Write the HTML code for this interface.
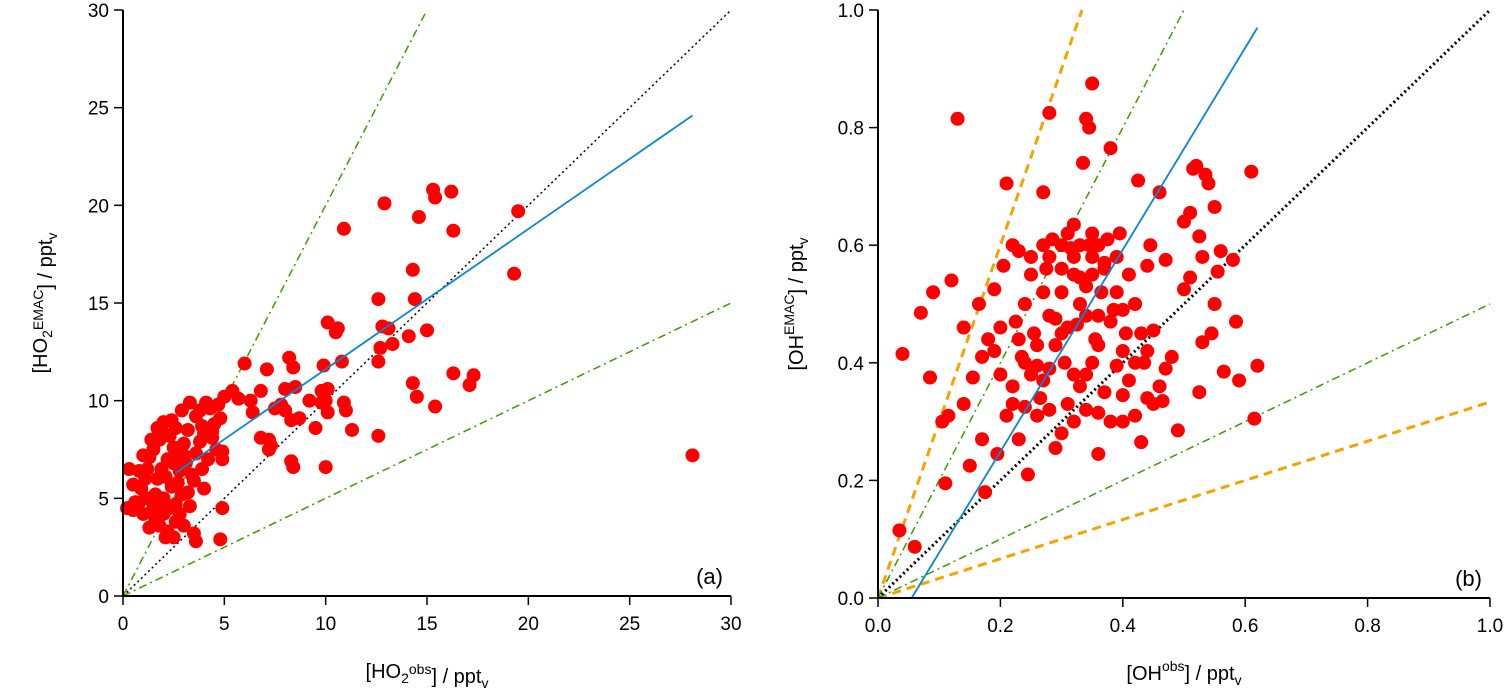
<!DOCTYPE html>
<html><head><meta charset="utf-8"><style>
body{margin:0;background:#fff;}
svg{display:block;font-family:"Liberation Sans",sans-serif;}
</style></head><body>
<svg id="c" width="1507" height="692" xmlns="http://www.w3.org/2000/svg"></svg>
<script>
const hoX=[28.1,19.5,19.3,15.3,15.4,16.2,16.3,12.9,10.9,14.6,14.3,12.6,14.4,17.3,17.1,16.3,14.3,14.5,15.4,12.6,13.3,15.0,14.1,12.8,13.1,12.6,12.7,10.1,10.5,10.6,9.9,10.8,8.2,8.4,7.1,6.0,10.9,11.0,11.3,9.8,10.1,10.0,9.2,9.5,9.8,10.1,10.0,8.0,8.5,8.0,7.8,8.3,8.7,8.3,8.4,7.2,7.2,7.5,6.8,7.3,6.8,5.4,5.0,5.7,6.3,6.4,4.9,4.8,4.9,4.4,
0.3,0.2,0.5,0.8,0.5,1,1.2,1.5,1.3,1.8,2.2,2.5,2.6,3.5,3.6,3.3,2.0,1.7,1.2,1.0,1.5,1.8,1.9,2.0,2.3,2.5,2.7,3.0,3.2,3.6,3.8,4.3,4.7,4.1,3.9,4.4,4.6,4.2,3.9,4.0,3.4,2.8,2.4,2.1,1.6,2.2,2.9,3.1,3.6,2.6,1.4,2.0,1.1,0.9,2.8,3.0,2.3,1.6,2.9,3.3,4.8,4.5,3.0,2.5,1.9,2.7,3.5,3.8,1.3,0.6,2.1,2.4,1.7,4.9,4.0,3.2,1.9,2.6,0.8];
const hoY=[7.2,19.7,16.5,20.8,20.4,20.7,18.7,20.1,18.8,19.4,16.7,15.2,15.2,11.3,10.8,11.4,10.9,10.2,9.7,8.2,12.9,13.6,13.3,13.8,13.7,12.0,12.7,14.0,13.5,13.7,11.8,12.0,12.2,11.7,11.6,11.9,9.9,9.5,8.5,10.5,10.6,10.0,10.0,8.6,9.9,9.4,6.6,10.6,10.7,9.5,9.8,9.0,9.1,6.9,6.6,7.5,8.0,9.6,8.1,7.7,10.5,10.5,10.2,10.1,10.0,9.4,4.5,2.9,7.4,8.4,
6.5,4.5,5.7,4.8,4.4,4.2,5,4.5,3.5,3.6,3.3,3.0,3.8,3.2,2.8,4.6,4.2,6,6.5,7.2,7.5,8.0,8.5,8.9,8.2,7.6,7.2,7.8,8.5,9.2,9.5,9.6,9.8,9.9,8.7,8.1,7.5,7,6.5,5.5,6.2,6.4,5.6,6.1,5.2,7.0,5.2,6.8,7.3,8.6,8.0,5.0,6.0,5.5,4.2,3.6,4.5,3.9,9.5,9.9,9.1,8.8,7.2,6.8,6.5,5.8,5.9,7.9,7.1,4.8,3.0,9.0,8.6,7.0,8.3,5.3,4.8,4.7,6.4];
const ohX=[0.04,0.035,0.06,0.07,0.085,0.09,0.105,0.115,0.12,0.13,0.14,0.14,0.11,0.15,0.155,0.165,0.17,0.175,0.18,0.19,0.2,0.195,0.205,0.21,0.22,0.225,0.23,0.235,0.24,0.245,0.25,0.255,0.26,0.265,0.27,0.275,0.28,0.285,0.29,0.29,0.3,0.305,0.31,0.315,0.32,0.325,0.33,0.335,0.34,0.345,0.35,0.345,0.35,0.355,0.36,0.36,0.365,0.37,0.375,0.38,0.385,0.39,0.395,0.4,0.405,0.41,0.42,0.425,0.43,0.435,0.44,0.445,0.45,0.46,0.465,0.47,0.48,0.49,0.5,0.51,0.515,0.52,0.525,0.53,0.535,0.54,0.545,0.55,0.555,0.56,0.565,0.58,0.585,0.59,0.61,0.615,0.62,0.525,0.53,0.55,0.5,0.51,
0.25,0.27,0.28,0.3,0.31,0.32,0.33,0.34,0.35,0.36,0.37,0.38,0.39,0.4,0.41,0.42,0.43,0.44,0.45,0.46,0.47,0.4,0.39,0.36,0.35,0.34,0.33,0.32,0.31,0.3,0.29,0.28,0.27,0.26,0.25,0.24,0.23,0.22,0.21,0.22,0.26,0.28,0.3,0.32,0.34,0.37,0.38,0.4,0.42,0.44,0.36,0.34,0.32,0.3,0.27,0.28,0.33,0.35,0.24,0.2,0.19,0.17,0.23];
const ohY=[0.415,0.115,0.087,0.485,0.375,0.52,0.3,0.31,0.54,0.815,0.46,0.33,0.195,0.225,0.375,0.5,0.27,0.18,0.44,0.525,0.38,0.245,0.565,0.705,0.6,0.47,0.59,0.41,0.325,0.21,0.55,0.45,0.395,0.34,0.69,0.56,0.825,0.61,0.475,0.255,0.52,0.4,0.33,0.595,0.635,0.465,0.545,0.74,0.815,0.8,0.875,0.6,0.55,0.44,0.315,0.245,0.52,0.56,0.61,0.765,0.49,0.395,0.62,0.345,0.45,0.55,0.5,0.71,0.265,0.4,0.565,0.6,0.455,0.69,0.335,0.575,0.41,0.285,0.525,0.655,0.73,0.735,0.615,0.58,0.72,0.705,0.45,0.665,0.555,0.59,0.385,0.575,0.47,0.37,0.725,0.305,0.395,0.35,0.435,0.5,0.64,0.545,
0.58,0.52,0.48,0.56,0.62,0.58,0.5,0.48,0.58,0.6,0.57,0.47,0.58,0.42,0.37,0.4,0.45,0.42,0.33,0.36,0.39,0.49,0.52,0.43,0.4,0.38,0.36,0.38,0.46,0.45,0.43,0.39,0.37,0.43,0.38,0.4,0.44,0.36,0.31,0.33,0.31,0.32,0.28,0.3,0.32,0.35,0.3,0.3,0.31,0.34,0.48,0.53,0.55,0.6,0.6,0.58,0.6,0.62,0.5,0.46,0.42,0.41,0.27];
const hoTicks=[0,5,10,15,20,25,30];
const ohTicks=["0.0","0.2","0.4","0.6","0.8","1.0"];

const svg=document.getElementById('c');
const NS="http://www.w3.org/2000/svg";
function mk(tag,attrs,parent){const e=document.createElementNS(NS,tag);for(const k in attrs)e.setAttribute(k,attrs[k]);(parent||svg).appendChild(e);return e;}

function panel(o){
  const g=mk('g',{});
  
  
  const sx=v=>o.x0+(v-o.min)/(o.max-o.min)*(o.x1-o.x0);
  const sy=v=>o.y0-(v-o.min)/(o.max-o.min)*(o.y0-o.y1);
  const clip='clip'+o.name;
  const cp=mk('clipPath',{id:clip},g);mk('rect',{x:o.x0,y:o.y1-2,width:o.x1-o.x0+2,height:o.y0-o.y1+2},cp);
  const lines=mk('g',{'clip-path':'url(#'+clip+')'},g);
  function ln(x1,y1,x2,y2,st,dash,w,name){const l=mk('line',{x1:sx(x1),y1:sy(y1),x2:sx(x2),y2:sy(y2),stroke:st,'stroke-width':w,'stroke-dasharray':dash},lines);}
  const M=o.max;
  if(o.orange){ln(0,0,M/3,M,'#f5a300','9,6',3,'ratio-3-line');ln(0,0,M,M/3,'#f5a300','9,6',3,'ratio-third-line');}
  ln(0,0,M/2,M,'#3d9a00','8,4,2,4',1.5,'ratio-2-line');
  ln(0,0,M,M/2,'#3d9a00','8,4,2,4',1.5,'ratio-half-line');
  ln(0,0,M,M,'#000','2,3',o.orange?3:1.5,'one-to-one-line');
  const pts=mk('g',{},g);
  for(let i=0;i<o.xs.length;i++){const c=mk('circle',{cx:sx(o.xs[i]),cy:sy(o.ys[i]),r:7,fill:'#ff0000'},pts);}
  const f=mk('line',{x1:sx(o.fit[0]),y1:sy(o.fit[1]),x2:sx(o.fit[2]),y2:sy(o.fit[3]),stroke:'#0a86d0','stroke-width':1.8},g);
  
  mk('line',{x1:o.x0,y1:o.y1,x2:o.x0,y2:o.y0+1,stroke:'#000','stroke-width':2},g);
  mk('line',{x1:o.x0-1,y1:o.y0,x2:o.x1,y2:o.y0,stroke:'#000','stroke-width':2},g);
  o.ticks.forEach(t=>{const v=parseFloat(t);
    mk('line',{x1:sx(v),y1:o.y0,x2:sx(v),y2:o.y0+9,stroke:'#000','stroke-width':1.5},g);
    mk('line',{x1:o.x0,y1:sy(v),x2:o.x0-9,y2:sy(v),stroke:'#000','stroke-width':1.5},g);
    const tx=mk('text',{x:sx(v),y:o.y0+34,'text-anchor':'middle','font-size':19},g);tx.textContent=t;
    
    const ty=mk('text',{x:o.x0-14,y:sy(v)+7,'text-anchor':'end','font-size':19},g);ty.textContent=t;
    
  });
  const tag=mk('text',{x:o.x1-8,y:o.y0-12,'text-anchor':'end','font-size':22},g);tag.textContent=o.tag;
  
  const xl=mk('text',{x:(o.x0+o.x1)/2,y:o.y0+82,'text-anchor':'middle','font-size':20},g);
  xl.innerHTML='['+o.sp+'<tspan dy="-9" font-size="14">obs</tspan><tspan dy="9">] / ppt</tspan><tspan dy="5" font-size="14">v</tspan>';
  
  const yl=mk('text',{transform:`translate(${o.ylx},${(o.y0+o.y1)/2}) rotate(-90)`,'text-anchor':'middle','font-size':20},g);
  yl.innerHTML='['+o.sp+'<tspan dy="-9" font-size="14">EMAC</tspan><tspan dy="9">] / ppt</tspan><tspan dy="5" font-size="14">v</tspan>';
  
}
panel({name:'panel-a',x0:123,x1:731,y0:596,y1:10,min:0,max:30,xs:hoX,ys:hoY,ticks:hoTicks.map(String),tag:'(a)',
  sp:'HO<tspan dy="5" font-size="14">2</tspan><tspan dy="-5"></tspan>',ylx:47,fit:[2.6,6.3,28.1,24.6],orange:false});
panel({name:'panel-b',x0:878,x1:1490,y0:598,y1:10,min:0,max:1,xs:ohX,ys:ohY,ticks:ohTicks,tag:'(b)',
  sp:'OH',ylx:803,fit:[0.055,0,0.62,0.97],orange:true});
</script>
</body></html>
